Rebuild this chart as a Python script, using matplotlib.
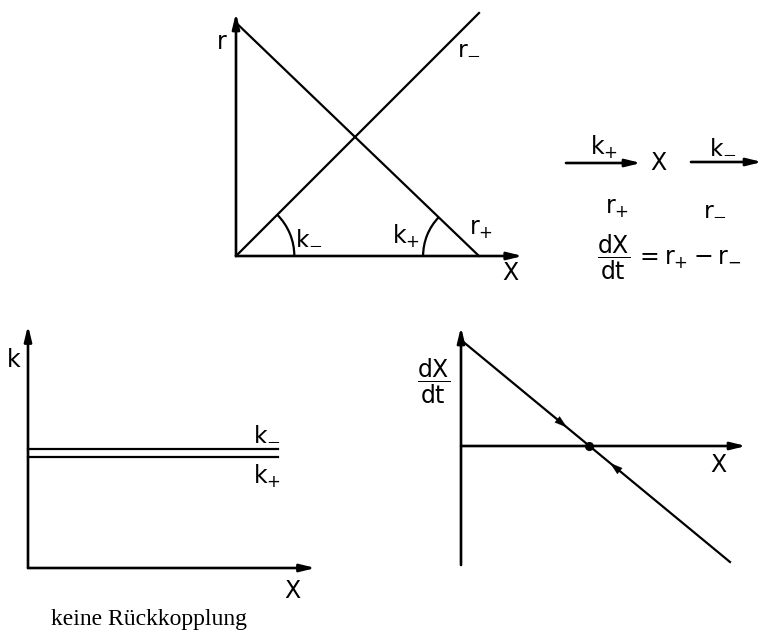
import numpy as np
import matplotlib
matplotlib.use("Agg")
import matplotlib.pyplot as plt
from matplotlib.patches import Arc

plt.rcParams['font.family'] = ['DejaVu Sans']
plt.rcParams['mathtext.default'] = 'regular'
plt.rcParams['mathtext.fontset'] = 'dejavusans'

W, H = 762, 632
FS = 17
LW = 1.6

# top panel: rates r+ and r- vs X
top_x = [0, 10]
top_r_plus = [9.6, 0]
top_r_minus = [0, 10]
top_x_axis_end = 11.8
top_y_axis_end = 10.0

# bottom left: rate constants vs X (no feedback)
k_x = [0, 10]
k_minus = [4.75, 4.75]
k_plus = [4.45, 4.45]
k_x_axis_end = 11.5
k_y_axis_end = 9.7

# bottom right: dX/dt vs X
d_x = [0, 10.76]
d_dxdt = [4.24, -4.64]
d_x_axis_end = 11.4
d_y_axis_range = [-4.76, 4.76]


def px_axes(fig, x0, y0, x1, y1, scale, origin):
    # axes over pixel box (y from top), data units = scale px, origin in px
    ax = fig.add_axes([x0 / W, 1 - y1 / H, (x1 - x0) / W, (y1 - y0) / H])
    ax.set_xlim((x0 - origin[0]) / scale, (x1 - origin[0]) / scale)
    ax.set_ylim((origin[1] - y1) / scale, (origin[1] - y0) / scale)
    ax.axis('off')
    return ax


def arrow(ax, start, end, lw=1.9, hl=0.9, hw=0.22):
    ax.annotate('', xy=end, xytext=start,
                arrowprops=dict(arrowstyle=f'-|>,head_length={hl},head_width={hw}',
                                lw=lw, color='k', shrinkA=0, shrinkB=0),
                annotation_clip=False)


fig = plt.figure(figsize=(W / 100, H / 100), dpi=100)

# ---- top panel
ax1 = px_axes(fig, 190, 0, 545, 300, 24.3, (236, 256))
arrow(ax1, (0, 0), (top_x_axis_end, 0))
arrow(ax1, (0, 0), (0, top_y_axis_end))
ax1.plot(top_x, top_r_plus, color='k', lw=LW)
ax1.plot(top_x, top_r_minus, color='k', lw=LW)
ang_minus = np.degrees(np.arctan2(top_r_minus[1], top_x[1]))
ang_plus = np.degrees(np.arctan2(top_r_plus[0], top_x[1]))
ax1.add_patch(Arc((0, 0), 4.8, 4.8, theta1=0, theta2=ang_minus, lw=LW, color='k'))
ax1.add_patch(Arc((top_x[1], 0), 4.6, 4.6, theta1=180 - ang_plus, theta2=180, lw=LW, color='k'))
ax1.text(-0.6, 8.8, 'r', fontsize=FS, ha='center', va='center')
ax1.text(9.6, 8.6, '$r_{-}$', fontsize=FS, ha='center', va='center')
ax1.text(3.0, 0.8, '$k_{-}$', fontsize=FS, ha='center', va='center')
ax1.text(7.0, 0.8, '$k_{+}$', fontsize=FS, ha='center', va='center')
ax1.text(10.1, 1.1, '$r_{+}$', fontsize=FS, ha='center', va='center')
ax1.text(11.28, -0.68, 'X', fontsize=FS, ha='center', va='center')

# ---- bottom left panel
ax2 = px_axes(fig, 0, 310, 330, 600, 25, (28, 568))
arrow(ax2, (0, 0), (k_x_axis_end, 0))
arrow(ax2, (0, 0), (0, k_y_axis_end))
ax2.plot(k_x, k_minus, color='k', lw=LW)
ax2.plot(k_x, k_plus, color='k', lw=LW)
ax2.text(-0.56, 8.3, 'k', fontsize=FS, ha='center', va='center')
ax2.text(9.56, 5.4, '$k_{-}$', fontsize=FS, ha='center', va='center')
ax2.text(9.56, 3.65, '$k_{+}$', fontsize=FS, ha='center', va='center')
ax2.text(10.56, -0.9, 'X', fontsize=FS, ha='center', va='center')

# ---- bottom right panel
ax3 = px_axes(fig, 400, 310, 762, 600, 25, (461, 446))
arrow(ax3, (0, 0), (d_x_axis_end, 0))
arrow(ax3, (0, d_y_axis_range[0]), (0, d_y_axis_range[1]))
ax3.plot(d_x, d_dxdt, color='k', lw=LW)
slope = (d_dxdt[1] - d_dxdt[0]) / (d_x[1] - d_x[0])
x_star = -d_dxdt[0] / slope
ax3.plot([x_star], [0], 'o', color='k', ms=5.5)
for xa, sgn in [(4.24, 1), (5.96, -1)]:
    ya = d_dxdt[0] + slope * xa
    arrow(ax3, (xa - sgn * 0.6, ya - sgn * 0.6 * slope), (xa, ya), lw=0.1, hl=0.9, hw=0.28)
ax3.text(-1.08, 2.6, r'$\dfrac{dX}{dt}$', fontsize=FS, ha='center', va='center')
ax3.text(10.28, -0.78, 'X', fontsize=FS, ha='center', va='center')

# ---- reaction scheme and caption (figure pixel coords)
ax0 = fig.add_axes([0, 0, 1, 1], zorder=-1)
ax0.set_xlim(0, W)
ax0.set_ylim(H, 0)
ax0.axis('off')
arrow(ax0, (566, 163), (641, 163))
arrow(ax0, (691, 162), (762, 162))
ax0.text(604, 147, '$k_{+}$', fontsize=FS, ha='center', va='center')
ax0.text(658, 163, 'X', fontsize=FS, ha='center', va='center')
ax0.text(723, 146, '$k_{-}$', fontsize=FS, ha='center', va='center')
ax0.text(617, 208, '$r_{+}$', fontsize=FS, ha='center', va='center')
ax0.text(715, 208, '$r_{-}$', fontsize=FS, ha='center', va='center')
ax0.text(614, 257, r'$\dfrac{dX}{dt}$', fontsize=FS, ha='center', va='center')
ax0.text(635, 259, '$= r_{+} - r_{-}$', fontsize=FS, ha='left', va='center')
ax0.text(149, 619, 'keine Rückkopplung', fontsize=17, family='Liberation Serif',
         ha='center', va='center')

fig.savefig('out.png', dpi=100)
